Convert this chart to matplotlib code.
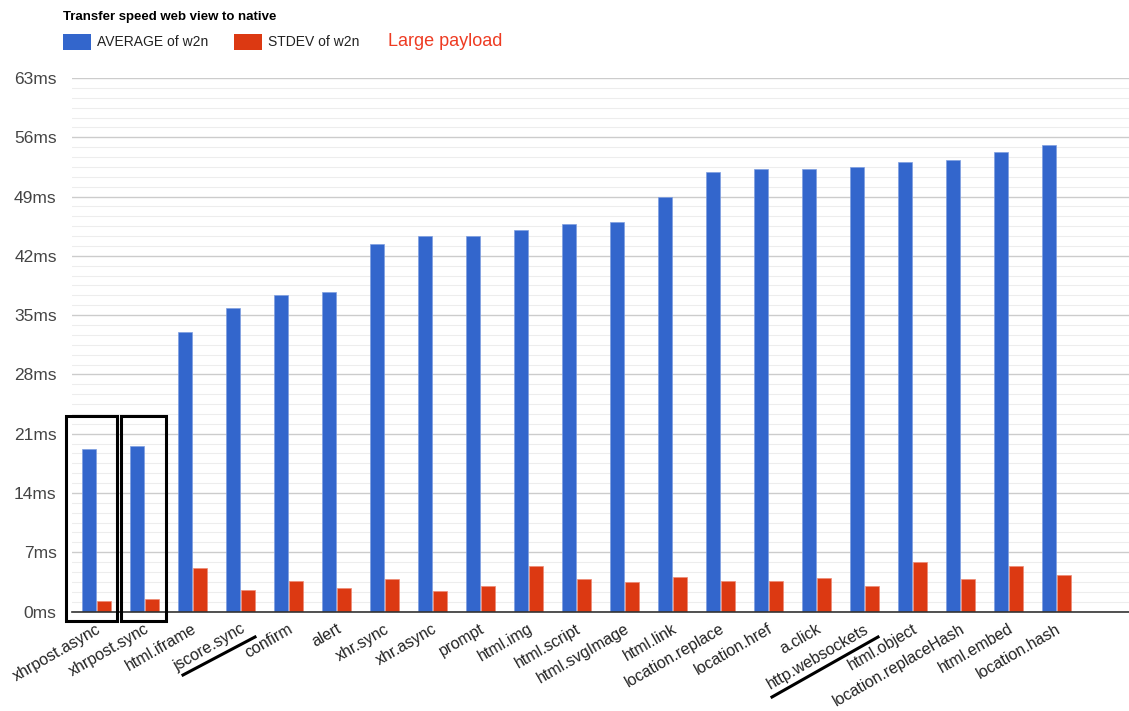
import numpy as np
import matplotlib
matplotlib.use("Agg")
import matplotlib.pyplot as plt
from matplotlib.patches import Rectangle
from matplotlib.lines import Line2D
from matplotlib.ticker import MultipleLocator, FuncFormatter

plt.rcParams["font.family"] = ["Liberation Sans", "DejaVu Sans"]

tests = ["xhrpost.async", "xhrpost.sync", "html.iframe", "jscore.sync", "confirm",
         "alert", "xhr.sync", "xhr.async", "prompt", "html.img", "html.script",
         "html.svgImage", "html.link", "location.replace", "location.href",
         "a.click", "http.websockets", "html.object", "location.replaceHash",
         "html.embed", "location.hash"]
avg_ms = [19.15, 19.6, 33.0, 35.8, 37.37, 37.72, 43.4, 44.3, 44.4, 45.1, 45.75,
          46.0, 48.97, 51.9, 52.2, 52.2, 52.44, 53.03, 53.34, 54.25, 55.04]
stdev_ms = [1.2, 1.51, 5.14, 2.54, 3.57, 2.74, 3.87, 2.42, 3.01, 5.4, 3.8,
            3.45, 4.1, 3.57, 3.57, 3.99, 3.01, 5.8, 3.8, 5.4, 4.34]

BLUE = "#3366cc"
RED = "#dc3912"

W, H = 1129, 711
fig = plt.figure(figsize=(W / 100, H / 100), dpi=100)
ax = fig.add_axes([72 / W, (H - 611.5) / H, (W - 72) / W, (611.5 - 78) / H])

x = np.arange(len(tests))
bw = 0.29
ax.bar(x - 0.145, avg_ms, bw, color=BLUE, edgecolor="#7f9ee0", linewidth=0.5,
       label="AVERAGE of w2n", zorder=3)
ax.bar(x + 0.165, stdev_ms, bw, color=RED, edgecolor="#ee8a75", linewidth=0.5,
       label="STDEV of w2n", zorder=3)

ax.set_xlim(-0.5, (W - 72) / 48 - 0.5)
ax.set_ylim(0, 63)
ax.yaxis.set_major_locator(MultipleLocator(7))
ax.yaxis.set_minor_locator(MultipleLocator(7 / 6))
ax.yaxis.set_major_formatter(FuncFormatter(lambda v, p: f"{v:.0f}ms"))
ax.grid(axis="y", which="major", color="#cccccc", linewidth=1.0, zorder=0)
ax.grid(axis="y", which="minor", color="#ededed", linewidth=0.8, zorder=0)
ax.set_axisbelow(True)

for s in ["left", "right", "top"]:
    ax.spines[s].set_visible(False)
ax.spines["bottom"].set_color("#333333")
ax.spines["bottom"].set_linewidth(1.2)
ax.spines["bottom"].set_zorder(4)

ax.tick_params(axis="y", which="both", length=0, pad=11, labelsize=12.5,
               labelcolor="#444444")
ax.tick_params(axis="x", length=0, pad=7, labelsize=11.5, labelcolor="#222222")
ax.set_xticks(x)
ax.set_xticklabels(tests, rotation=30, ha="right", rotation_mode="anchor")

# black boxes around the xhrpost bars
for x0, x1 in [(-0.625, 0.4375), (0.52, 1.458)]:
    ax.add_patch(Rectangle((x0, -1.09), x1 - x0, 24.17, fill=False,
                           edgecolor="black", linewidth=2.2, clip_on=False,
                           zorder=5))

# underlines drawn by hand under two labels
for (xa, ya), (xb, yb) in [((183, 675), (255, 637)), ((772, 697), (878, 637))]:
    fig.add_artist(Line2D([xa / W, xb / W], [1 - ya / H, 1 - yb / H],
                          color="black", linewidth=2.2,
                          transform=fig.transFigure))

# title and legend
fig.text(63 / W, 1 - 17 / H, "Transfer speed web view to native",
         fontsize=9.5, fontweight="bold", va="center", ha="left")
for lx, col, lab in [(63, BLUE, "AVERAGE of w2n"), (234, RED, "STDEV of w2n")]:
    fig.add_artist(Rectangle((lx / W, 1 - 50 / H), 28 / W, 16 / H,
                             facecolor=col, edgecolor="none",
                             transform=fig.transFigure))
    fig.text((lx + 34) / W, 1 - 42 / H, lab, fontsize=10, color="#222222",
             va="center", ha="left")
fig.text(388 / W, 1 - 41 / H, "Large payload", fontsize=13, color="#ee3b22",
         va="center", ha="left")

fig.savefig("out.png", dpi=100)
